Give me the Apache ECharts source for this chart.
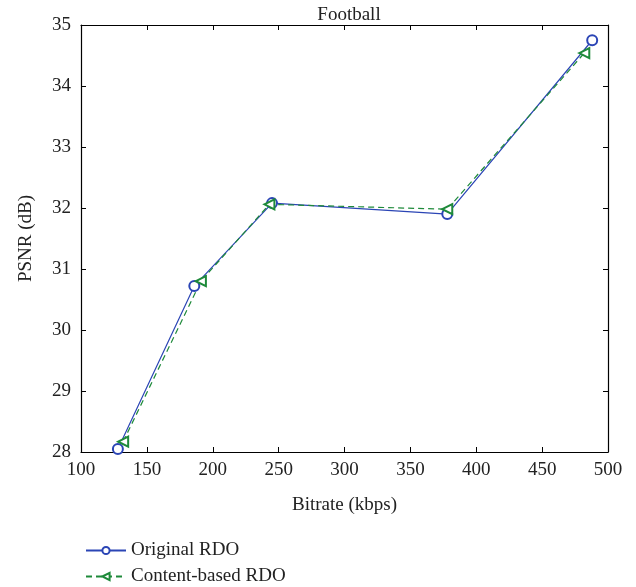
<!DOCTYPE html>
<html>
<head>
	<title>Football</title>
	<meta charset="utf-8">
	<script src="https://cdn.jsdelivr.net/npm/echarts@6/dist/echarts.min.js"></script>
</head>
<body style="margin:0">
<div id="chart" style="width:636px;height:587px"></div>
<script>
	// 数据
	const bitrateOrig = [128, 186, 245, 378, 488];
	const psnrOrig = [28.05, 30.72, 32.08, 31.90, 34.75];
	const bitrateContent = [132, 191, 243, 378, 482];
	const psnrContent = [28.17, 30.80, 32.06, 31.98, 34.54];
	const xTicks = [100, 150, 200, 250, 300, 350, 400, 450, 500];
	const yTicks = [28, 29, 30, 31, 32, 33, 34, 35];
	const names = ['Original RDO', 'Content-based RDO'];

	const font = 'Liberation Serif', textColor = '#222', fs = 19;
	const blue = '#2b45b5', green = '#1e8a3a';

	function pairs(xs, ys){
		return xs.map((x, i) => [x, ys[i]]);
	}

	function boxAxis(extra){
		return Object.assign({
			type: 'value',
			axisLine: {show: true, onZero: false, lineStyle: {color: '#000', width: 1.2}},
			axisTick: {show: true, inside: true, length: 5, lineStyle: {color: '#000'}},
			splitLine: {show: false}
		}, extra);
	}

	// 图例：每行一个
	function legendRow(name, top){
		return {
			left: 80, top: top,
			itemWidth: 40, itemHeight: 9,
			textStyle: {fontFamily: font, fontSize: fs, color: textColor},
			data: [name]
		};
	}

	let option = {
		animation: false,
		title: {
			text: 'Football',
			left: 344, top: 1, textAlign: 'center',
			textStyle: {fontFamily: font, fontWeight: 'normal', fontSize: fs, color: textColor}
		},
		grid: {left: 81, right: 28, top: 25, bottom: 135},
		legend: [legendRow(names[0], 536), legendRow(names[1], 562)],
		xAxis: [
			boxAxis({
				min: xTicks[0], max: xTicks[xTicks.length - 1], interval: 50,
				name: 'Bitrate (kbps)', nameLocation: 'middle', nameGap: 44,
				nameTextStyle: {fontFamily: font, fontSize: fs, color: textColor},
				axisLabel: {fontFamily: font, fontSize: fs, color: textColor, margin: 9}
			}),
			boxAxis({
				position: 'top',
				min: xTicks[0], max: xTicks[xTicks.length - 1], interval: 50,
				axisLabel: {show: false}
			})
		],
		yAxis: [
			boxAxis({
				min: yTicks[0], max: yTicks[yTicks.length - 1], interval: 1,
				name: 'PSNR (dB)', nameLocation: 'middle', nameGap: 45,
				nameTextStyle: {fontFamily: font, fontSize: fs, color: textColor},
				axisLabel: {fontFamily: font, fontSize: fs, color: textColor, margin: 10}
			}),
			boxAxis({
				position: 'right',
				min: yTicks[0], max: yTicks[yTicks.length - 1], interval: 1,
				axisLabel: {show: false}
			})
		],
		series: [
			{
				name: names[0],
				type: 'line',
				data: pairs(bitrateOrig, psnrOrig),
				symbol: 'emptyCircle',
				symbolSize: 10,
				color: blue,
				lineStyle: {color: blue, width: 1.2},
				itemStyle: {color: blue, borderColor: blue, borderWidth: 1.1}
			},
			{
				name: names[1],
				type: 'line',
				data: pairs(bitrateContent, psnrContent),
				symbol: 'emptyTriangle',
				symbolRotate: 90,
				symbolSize: 10,
				color: green,
				lineStyle: {color: green, width: 1.2, type: [6, 4]},
				itemStyle: {color: green, borderColor: green, borderWidth: 1.1}
			}
		]
	};

	let myChart = echarts.init(document.getElementById('chart'));
	myChart.setOption(option);
</script>
</body>
</html>
